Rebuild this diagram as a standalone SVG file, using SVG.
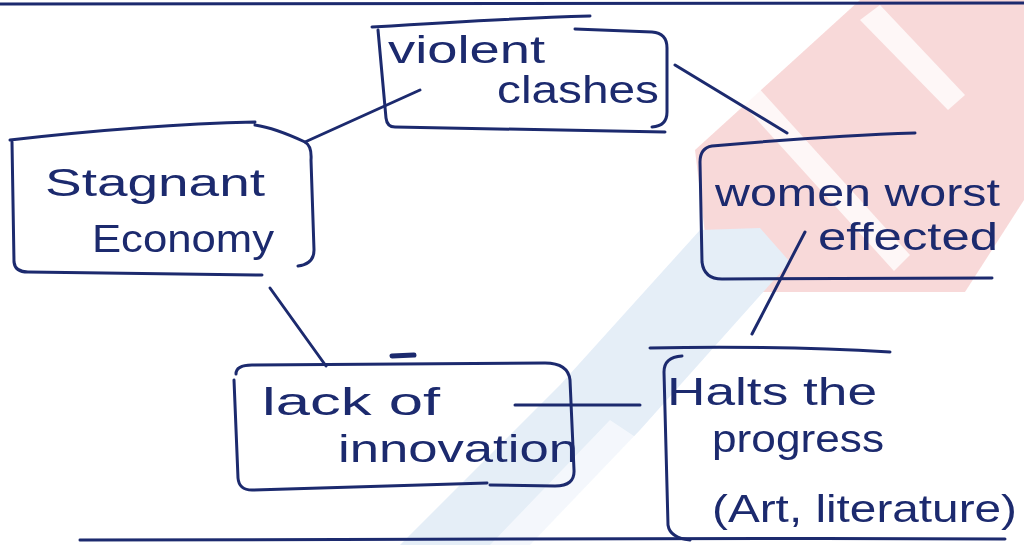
<svg xmlns="http://www.w3.org/2000/svg" width="1024" height="545" viewBox="0 0 1024 545">
<style>
.ink{fill:none;stroke:#1c2a6e;stroke-width:3;stroke-linecap:round;stroke-linejoin:round}
.t{font-family:"Liberation Sans","DejaVu Sans",sans-serif;font-size:38px;fill:#1c2a6e}
</style>
<rect width="1024" height="545" fill="#ffffff"/>
<g id="watermark" opacity="0.9">
<polygon points="695,150 860,0 1024,0 1024,200 965,292 712,292" fill="#f8d5d5"/>
<polygon points="730,90 746,74 910,255 894,271" fill="#ffffff" opacity="0.8"/>
<polygon points="860,20 880,5 965,95 948,110" fill="#ffffff" opacity="0.8"/>
<polygon points="400,545 560,385 700,230 760,228 790,262 640,430 530,545" fill="#e2ecf7"/>
<polygon points="490,545 610,420 640,440 560,545" fill="#ffffff" opacity="0.6"/>
</g>
<g id="frame">
<path class="ink" d="M0,4 C300,6 600,2 1024,3"/>
<path class="ink" d="M80,540 C400,537 700,538 1005,539"/>
</g>
<g id="connectors">
<path class="ink" d="M305,142 L420,90"/>
<path class="ink" d="M675,65 L787,133"/>
<path class="ink" d="M805,232 L752,334"/>
<path class="ink" d="M270,288 L326,366"/>
<path class="ink" d="M515,405 L640,405"/>
</g>
<g id="violent-clashes">
<path class="ink" d="M372,27 C450,22 520,18 590,16 M575,29 L652,32 Q667,33 667,48 L667,112 Q667,126 652,127 M665,132 L395,127 Q387,127 386,118 L378,30"/>
<text class="t" x="388" y="63" textLength="157" lengthAdjust="spacingAndGlyphs">violent</text>
<text class="t" x="497" y="103" textLength="162" lengthAdjust="spacingAndGlyphs">clashes</text>
</g>
<g id="stagnant-economy">
<path class="ink" d="M10,140 C80,132 170,124 255,122 M255,125 Q275,128 305,142 Q312,146 311,160 L314,250 Q314,264 298,266 M12,142 L14,262 Q15,272 28,272 L262,275"/>
<text class="t" x="45" y="196" textLength="220" lengthAdjust="spacingAndGlyphs">Stagnant</text>
<text class="t" x="92" y="252" textLength="182" lengthAdjust="spacingAndGlyphs">Economy</text>
</g>
<g id="women-worst-effected">
<path class="ink" d="M712,146 C780,140 850,135 915,133 M712,146 Q700,148 700,162 L702,262 Q704,279 722,279 L992,278"/>
<text class="t" x="715" y="206" textLength="285" lengthAdjust="spacingAndGlyphs">women worst</text>
<text class="t" x="818" y="250" textLength="180" lengthAdjust="spacingAndGlyphs">effected</text>
</g>
<g id="lack-of-innovation">
<path class="ink" d="M236,374 Q236,365 252,365 L545,363 Q568,363 570,380 L574,470 Q575,486 555,486 L490,485 M487,483 L252,490 Q239,490 238,478 L234,380"/>
<path class="ink" d="M392,356 L414,355" style="stroke-width:5"/>
<text class="t" x="262" y="415" textLength="178" lengthAdjust="spacingAndGlyphs">lack of</text>
<text class="t" x="338" y="462" textLength="240" lengthAdjust="spacingAndGlyphs">innovation</text>
</g>
<g id="halts-the-progress">
<path class="ink" d="M650,348 C750,346 820,348 890,352 M682,356 Q664,357 664,372 L668,525 Q670,538 690,540"/>
<text class="t" x="667" y="405" textLength="210" lengthAdjust="spacingAndGlyphs">Halts the</text>
<text class="t" x="712" y="452" textLength="172" lengthAdjust="spacingAndGlyphs">progress</text>
<text class="t" x="712" y="522" textLength="305" lengthAdjust="spacingAndGlyphs">(Art, literature)</text>
</g>
</svg>
